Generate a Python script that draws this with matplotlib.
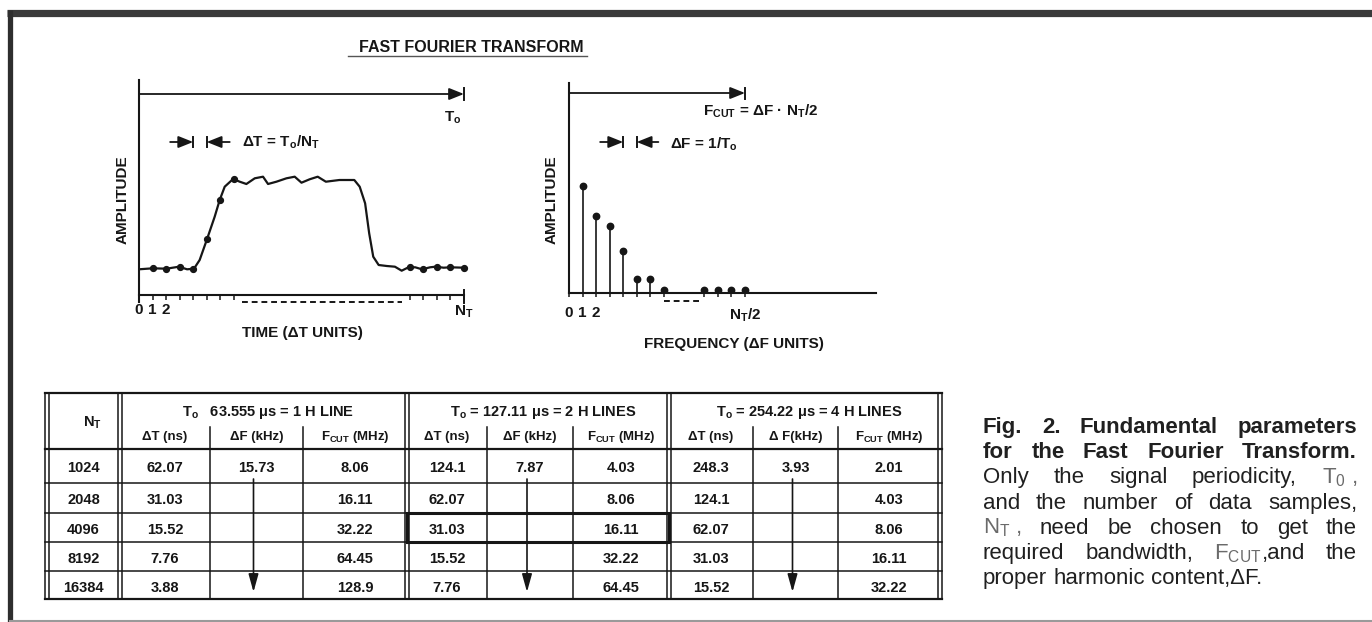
import matplotlib
matplotlib.use('Agg')
import matplotlib.pyplot as plt
from matplotlib.patches import Rectangle

plt.rcParams['font.family'] = ['Liberation Sans', 'DejaVu Sans']
plt.rcParams['mathtext.default'] = 'regular'

INK = '#161616'
GREY = '#6a6a6a'

# time record: sample index vs amplitude (arbitrary units)
trace_n = [0, 1.03, 2.02, 2.96, 3.55, 4.06, 4.48, 5.02, 5.59, 5.96, 6.33, 6.95,
           7.44, 7.93, 8.55, 9.16, 9.53, 10.15, 10.89, 11.5, 12.0, 12.6, 13.2,
           13.8, 14.8, 15.9, 16.3, 16.7, 17.0, 17.3, 17.7, 18.3, 18.9, 19.4,
           19.9, 20.4, 20.9, 21.5, 21.9, 22.5, 23, 24]
trace_amp = [2.57, 2.67, 2.63, 2.83, 2.57, 2.63, 3.5, 5.57, 7.83, 9.5, 10.83, 11.6,
             11.33, 11.1, 11.67, 11.83, 11.1, 11.33, 11.67, 11.83, 11.23, 11.57,
             11.83, 11.33, 11.5, 11.5, 10.83, 9.17, 6.17, 3.83, 3.0, 2.9, 2.83,
             2.43, 2.77, 2.77, 2.57, 2.77, 2.83, 2.73, 2.77, 2.73]
sample_n = [1, 2, 3, 4, 5, 6, 7, 20, 21, 22, 23, 24]
sample_amp = [2.67, 2.63, 2.83, 2.63, 5.57, 9.5, 11.6, 2.77, 2.57, 2.83, 2.77, 2.73]

# spectrum: harmonic index vs amplitude
harm_n = [1, 2, 3, 4, 5, 6, 7, 10, 11, 12, 13]
harm_amp = [10.7, 7.7, 6.7, 4.2, 1.4, 1.4, 0.3, 0.35, 0.35, 0.3, 0.35]

# table
nt_values = ['1024', '2048', '4096', '8192', '16384']
group_titles = ['T$_o$   63.555 μs = 1 H LINE',
                'T$_o$ = 127.11 μs = 2 H LINES',
                'T$_o$ = 254.22 μs = 4 H LINES']
sub_headers = [['ΔT (ns)', 'ΔF (kHz)', 'F$_{CUT}$ (MHz)'],
               ['ΔT (ns)', 'ΔF (kHz)', 'F$_{CUT}$ (MHz)'],
               ['ΔT (ns)', 'Δ F(kHz)', 'F$_{CUT}$ (MHz)']]
dt_ns = [['62.07', '31.03', '15.52', '7.76', '3.88'],
         ['124.1', '62.07', '31.03', '15.52', '7.76'],
         ['248.3', '124.1', '62.07', '31.03', '15.52']]
df_khz = ['15.73', '7.87', '3.93']
fcut_mhz = [['8.06', '16.11', '32.22', '64.45', '128.9'],
            ['4.03', '8.06', '16.11', '32.22', '64.45'],
            ['2.01', '4.03', '8.06', '16.11', '32.22']]

caption_bold = ['Fig. 2. Fundamental parameters',
                'for the Fast Fourier Transform.']
caption_body = ['Only the signal periodicity, T$_0$~,',
                'and the number of data samples,',
                'N$_T$~, need be chosen to get the',
                'required bandwidth, F$_{CUT}$|,and the',
                'proper harmonic content,ΔF.']

W, H = 1372, 622
PX_N = 13.54   # pixels per sample
PX_A = 10.0    # pixels per amplitude unit
CAP_SIZE = 16

fig = plt.figure(figsize=(W / 100, H / 100), dpi=100)
base = fig.add_axes([0, 0, 1, 1])
base.set_xlim(0, W)
base.set_ylim(H, 0)
base.axis('off')


def plot_axes(x_px, y_px):
    w, h = 26 * PX_N, 22 * PX_A
    ax = fig.add_axes([x_px / W, (H - y_px) / H, w / W, h / H])
    ax.set_xlim(0, 26)
    ax.set_ylim(0, 22)
    ax.patch.set_alpha(0)
    for s in ['top', 'right']:
        ax.spines[s].set_visible(False)
    for s in ['left', 'bottom']:
        ax.spines[s].set_linewidth(1.5)
        ax.spines[s].set_color(INK)
    ax.set_yticks([])
    return ax


def dim_arrow(ax, x_from, x_to, y):
    ax.annotate('', xy=(x_to, y), xytext=(x_from, y), annotation_clip=False,
                arrowprops=dict(arrowstyle='-|>,head_length=0.75,head_width=0.3',
                                mutation_scale=12, lw=1.3, color=INK,
                                shrinkA=0, shrinkB=0))


def bar(ax, x, y, half):
    ax.plot([x, x], [y - half, y + half], color=INK, lw=1.4, clip_on=False)


def tick_labels(ticks, first, last):
    return [str(t) if t in first else (last if t == ticks[-1] else '') for t in ticks]


# ---- time domain ----
ax1 = plot_axes(139, 295)
ax1.plot(trace_n, trace_amp, color=INK, lw=1.6, solid_joinstyle='round')
ax1.plot(sample_n, sample_amp, 'o', color=INK, ms=4.2)
ax1.spines['left'].set_bounds(-0.7, 21.5)
ax1.spines['bottom'].set_bounds(0, 24)
t1 = [0, 1, 2, 3, 4, 5, 6, 7, 20, 21, 22, 23, 24]
ax1.set_xticks(t1, tick_labels(t1, (0, 1, 2), 'N$_T$'), fontweight='bold')
ax1.tick_params(axis='x', direction='out', length=3.6, width=1.1, pad=2.5,
                labelsize=11, colors=INK)
bar(ax1, 24, -0.1, 0.65)
ax1.plot([7.6, 19.4], [-0.7, -0.7], color=INK, lw=1.4, dashes=(3, 2), clip_on=False)
dim_arrow(ax1, 0, 24, 20.1)
bar(ax1, 24, 20.1, 0.55)
ax1.text(23.2, 17.3, 'T$_o$', ha='center', va='baseline', fontsize=11, fontweight='bold', color=INK)
dim_arrow(ax1, 2.3, 4, 15.3)
bar(ax1, 4, 15.3, 0.5)
bar(ax1, 5, 15.3, 0.5)
dim_arrow(ax1, 6.7, 5, 15.3)
ax1.text(7.6, 14.8, 'ΔT = T$_o$/N$_T$', ha='left', va='baseline', fontsize=11, fontweight='bold', color=INK)
ax1.text(-1.18, 9.5, 'AMPLITUDE', rotation=90, ha='center', va='center', fontsize=11,
         fontweight='bold', color=INK)
ax1.text(12.04, -4.15, 'TIME (ΔT UNITS)', ha='center', va='baseline', fontsize=11,
         fontweight='bold', color=INK)

# ---- frequency domain ----
ax2 = plot_axes(569, 293)
mk, st, bl = ax2.stem(harm_n, harm_amp)
mk.set_color(INK)
mk.set_markersize(4.6)
st.set_color(INK)
st.set_linewidth(1.2)
bl.set_visible(False)
ax2.spines['left'].set_bounds(0, 21.0)
ax2.spines['bottom'].set_bounds(0, 22.7)
t2 = [0, 1, 2, 3, 4, 5, 6, 7, 10, 11, 12, 13]
ax2.set_xticks(t2, tick_labels(t2, (0, 1, 2), 'N$_T$/2'), fontweight='bold')
ax2.tick_params(axis='x', direction='out', length=3.2, width=1.1, pad=6.5,
                labelsize=11, colors=INK)
ax2.plot([7.0, 9.7], [-0.8, -0.8], color=INK, lw=1.4, dashes=(3, 2), clip_on=False)
dim_arrow(ax2, 0, 13, 20.0)
bar(ax2, 13, 20.0, 0.55)
ax2.text(9.9, 17.7, 'F$_{CUT}$ = ΔF · N$_T$/2', ha='left', va='baseline', fontsize=11,
         fontweight='bold', color=INK)
dim_arrow(ax2, 2.3, 4, 15.1)
bar(ax2, 4, 15.1, 0.5)
bar(ax2, 5, 15.1, 0.5)
dim_arrow(ax2, 6.6, 5, 15.1)
ax2.text(7.46, 14.4, 'ΔF = 1/T$_o$', ha='left', va='baseline', fontsize=11, fontweight='bold', color=INK)
ax2.text(-1.26, 9.3, 'AMPLITUDE', rotation=90, ha='center', va='center', fontsize=11,
         fontweight='bold', color=INK)
ax2.text(12.19, -5.5, 'FREQUENCY (ΔF UNITS)', ha='center', va='baseline', fontsize=11,
         fontweight='bold', color=INK)

# ---- title and frame ----
base.text(471, 47, 'FAST FOURIER TRANSFORM', ha='center', va='center', fontsize=11.5,
          fontweight='bold', color=INK)
base.plot([348, 587], [56, 56], color='#555555', lw=1.0)
base.plot([7, W], [13, 13], color='#3a3a3a', lw=5.2, solid_capstyle='butt')
base.plot([10, 10], [10, H], color='#2e2e2e', lw=3.8, solid_capstyle='butt')
base.plot([10, W], [621, 621], color='#9a9a9a', lw=1.5)

# ---- table ----
col_edges = [47, 120, 210, 303, 407, 487, 573, 669, 753, 838, 940]
row_edges = [393, 449, 483, 513, 542, 571, 599]
for y in row_edges:
    lw = 1.6 if y in (393, 449, 599) else 1.1
    base.plot([45, 942], [y, y], color=INK, lw=lw)
for x in [47, 120, 407, 669, 940]:
    for dx in (-2, 2):
        base.plot([x + dx, x + dx], [393, 599], color=INK, lw=1.1)
for x in [210, 303, 487, 573, 753, 838]:
    base.plot([x, x], [427, 599], color=INK, lw=1.1)
base.add_patch(Rectangle((407, 513), 262, 29, fill=False, lw=2.2, ec=INK))

cell_x = [(a + b) / 2 for a, b in zip(col_edges[:-1], col_edges[1:])]
row_y = [(a + b) / 2 + 6.5 for a, b in zip(row_edges[1:-1], row_edges[2:])]
tkw = dict(ha='center', va='baseline', fontweight='bold', color=INK)

base.text(cell_x[0] + 9, 427, 'N$_T$', fontsize=10.5, **tkw)
for i, v in enumerate(nt_values):
    base.text(cell_x[0], row_y[i], v, fontsize=10.5, **tkw)
for g in range(3):
    gx0, gx1 = col_edges[1 + 3 * g], col_edges[4 + 3 * g]
    base.text((gx0 + gx1) / 2 + 5, 416, group_titles[g], fontsize=10.5, **tkw)
    for k in range(3):
        base.text(cell_x[1 + 3 * g + k], 440, sub_headers[g][k], fontsize=9.5, **tkw)
    for i in range(5):
        base.text(cell_x[1 + 3 * g], row_y[i], dt_ns[g][i], fontsize=10.5, **tkw)
        base.text(cell_x[3 + 3 * g], row_y[i], fcut_mhz[g][i], fontsize=10.5, **tkw)
    ax_ = cell_x[2 + 3 * g]
    base.text(ax_, row_y[0], df_khz[g], fontsize=10.5, **tkw)
    base.annotate('', xy=(ax_ - 3, 592), xytext=(ax_ - 3, 479),
                  arrowprops=dict(arrowstyle='-|>,head_length=0.9,head_width=0.25',
                                  mutation_scale=12, lw=1.2, color=INK,
                                  shrinkA=0, shrinkB=0))

# ---- caption, justified ----
renderer = fig.canvas.get_renderer()


def set_line(text, y, x0, x1, justify, weight):
    words = [w.replace('~', ' ') for w in text.split(' ')]
    placed = []
    for w in words:
        segs = []
        for s in w.split('|'):
            col = GREY if '$' in s else '#202020'
            t = base.text(0, y, s, ha='left', va='baseline', fontsize=CAP_SIZE,
                          fontweight=weight, color=col)
            segs.append((t, t.get_window_extent(renderer).width))
        placed.append(segs)
    widths = [sum(s[1] for s in segs) for segs in placed]
    if justify:
        gap = (x1 - x0 - sum(widths)) / (len(words) - 1)
    else:
        gap = 0.278 * CAP_SIZE * 100 / 72
    x = x0
    for segs, wsum in zip(placed, widths):
        xs = x
        for t, w in segs:
            t.set_x(xs)
            xs += w
        x += wsum + gap


lines = [(s, 'bold') for s in caption_bold] + [(s, 'normal') for s in caption_body]
for i, (s, wt) in enumerate(lines):
    set_line(s, 433 + 25.2 * i, 983, 1357, i < len(lines) - 1, wt)

fig.savefig('out.png', dpi=100)
